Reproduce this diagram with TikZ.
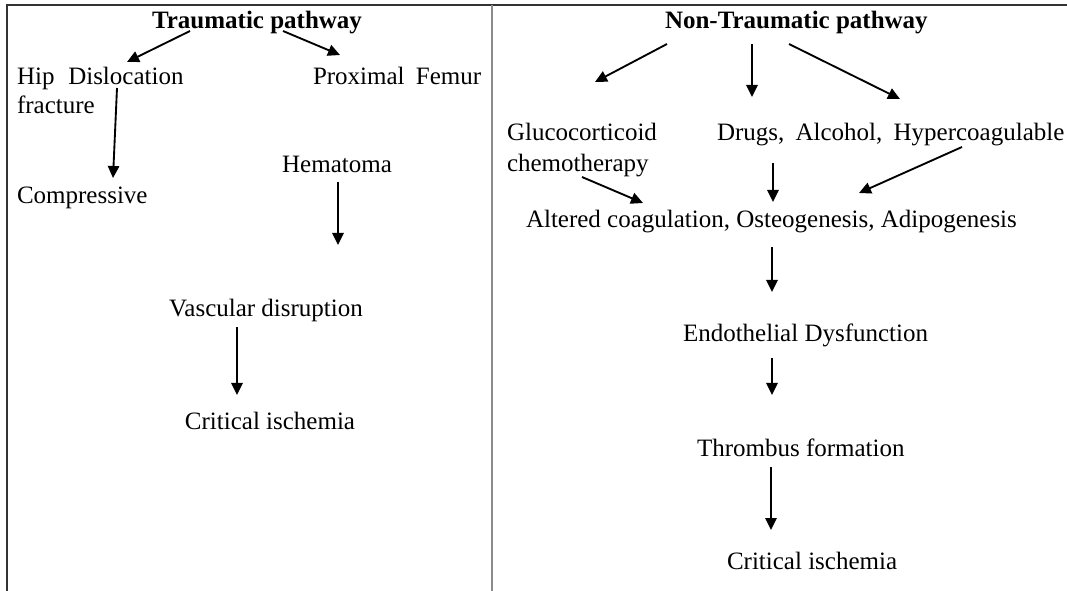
\documentclass[tikz,border=0pt]{standalone}
\usepackage{fontspec}
\setmainfont{Liberation Serif}
\usetikzlibrary{arrows.meta}
\begin{document}
\begin{tikzpicture}[x=0.75pt,y=-0.75pt,
  lbl/.style={inner sep=0pt,outer sep=0pt,font=\fontsize{18.75pt}{22pt}\selectfont},
  ttl/.style={lbl,font=\fontsize{18.75pt}{22pt}\selectfont\bfseries},
  arr/.style={line width=1.4pt,-{Triangle[length=9pt,width=8.5pt]}},
  frame/.style={line width=1pt,draw=black!80},
  divider/.style={line width=1pt,draw=black!45}]
\useasboundingbox (0,0) rectangle (1067,591);
% frame
\coordinate (tl) at (7,5);
\coordinate (tr) at (1067,5);
\coordinate (bl) at (7,591);
\coordinate (dt) at (492,5);
\coordinate (db) at (492,591);
\draw[frame] (bl) -- (tl) -- (tr);
\draw[divider] (dt) -- (db);

% left panel
\node[ttl,anchor=base] (trauma) at (257,29) {Traumatic pathway};
\node[lbl,anchor=base west] (hip) at (17,85) {Hip\hspace{0.3em} Dislocation};
\node[lbl,anchor=base west] (hipb) at (17,114) {fracture};
\node[lbl,anchor=base west] (prox) at (313,85) {Proximal\hspace{0.2em} Femur};
\node[lbl,anchor=base west] (comp) at (17,204) {Compressive};
\node[lbl,anchor=base] (hema) at (337,173) {Hematoma};
\node[lbl,anchor=base] (vasc) at (266,317) {Vascular disruption};
\node[lbl,anchor=base] (crit1) at (270,430) {Critical ischemia};

\coordinate (a1s) at (190,31); \coordinate (a1e) at (127,62);
\coordinate (a2s) at (283,31); \coordinate (a2e) at (340,55);
\coordinate (a3s) at (117,88); \coordinate (a3e) at (113,178);
\coordinate (a4s) at (338,182); \coordinate (a4e) at (338,245);
\coordinate (a5s) at (237,327); \coordinate (a5e) at (237,395);
\draw[arr] (a1s) -- (a1e);
\draw[arr] (a2s) -- (a2e);
\draw[arr] (a3s) -- (a3e);
\draw[arr] (a4s) -- (a4e);
\draw[arr] (a5s) -- (a5e);

% right panel
\node[ttl,anchor=base west] (ntrauma) at (665,29) {Non-Traumatic pathway};
\node[lbl,anchor=base west] (gluco) at (507,141) {Glucocorticoid};
\node[lbl,anchor=base west] (chemo) at (507,172) {chemotherapy};
\node[lbl,anchor=base west] (drugs) at (717,141) {Drugs,\hspace{0.2em} Alcohol,\hspace{0.2em} Hypercoagulable};
\node[lbl,anchor=base west] (alt) at (526,228) {Altered coagulation, Osteogenesis, Adipogenesis};
\node[lbl,anchor=base west] (endo) at (683,342) {Endothelial Dysfunction};
\node[lbl,anchor=base west] (thromb) at (697,456) {Thrombus formation};
\node[lbl,anchor=base west] (crit2) at (727,569) {Critical ischemia};

\coordinate (b1s) at (667,44); \coordinate (b1e) at (595,82);
\coordinate (b2s) at (752,44); \coordinate (b2e) at (752,97);
\coordinate (b3s) at (789,44); \coordinate (b3e) at (900,99);
\coordinate (b4s) at (582,177); \coordinate (b4e) at (643,203);
\coordinate (b5s) at (773,163); \coordinate (b5e) at (773,202);
\coordinate (b6s) at (962,147); \coordinate (b6e) at (859,193);
\coordinate (b7s) at (772,247); \coordinate (b7e) at (772,292);
\coordinate (b8s) at (772,358); \coordinate (b8e) at (772,395);
\coordinate (b9s) at (771,467); \coordinate (b9e) at (771,530);
\draw[arr] (b1s) -- (b1e);
\draw[arr] (b2s) -- (b2e);
\draw[arr] (b3s) -- (b3e);
\draw[arr] (b4s) -- (b4e);
\draw[arr] (b5s) -- (b5e);
\draw[arr] (b6s) -- (b6e);
\draw[arr] (b7s) -- (b7e);
\draw[arr] (b8s) -- (b8e);
\draw[arr] (b9s) -- (b9e);
\end{tikzpicture}
\end{document}
